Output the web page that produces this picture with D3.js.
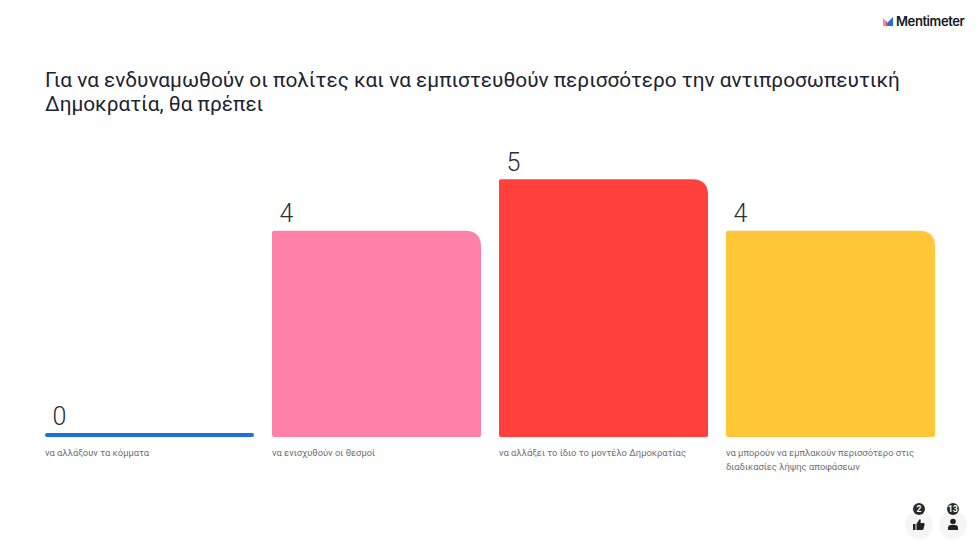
<!DOCTYPE html>
<html>
<head>
<meta charset="utf-8">
<script src="https://cdn.jsdelivr.net/npm/d3@7"></script>
<style>
  html, body { margin: 0; padding: 0; background: #fff; }
  svg { display: block; }
</style>
</head>
<body>
<svg id="chart" width="980" height="551"></svg>
<script>
const titleLines = [
  "Για να ενδυναμωθούν οι πολίτες και να εμπιστευθούν περισσότερο την αντιπροσωπευτική",
  "Δημοκρατία, θα πρέπει"
];
const categories = ["a", "b", "c", "d"];
const values = [0, 4, 5, 4];
const labels = [
  ["να αλλάξουν τα κόμματα"],
  ["να ενισχυθούν οι θεσμοί"],
  ["να αλλάξει το ίδιο το μοντέλο Δημοκρατίας"],
  ["να μπορούν να εμπλακούν περισσότερο στις", "διαδικασίες λήψης αποφάσεων"]
];
const colors = ["#1f6fe0", "#ff80a8", "#ff403d", "#ffc738"];
const reactions = 2;
const participants = 13;

const font = "Roboto, Inter, sans-serif";
const svg = d3.select("#chart");

svg.append("g").selectAll("text").data(titleLines).enter().append("text")
  .attr("x", 45)
  .attr("y", (d, i) => 87 + i * 24)
  .attr("font-family", font)
  .attr("font-size", 20.8)
  .attr("fill", "#1d2433")
  .text(d => d);

const x = d3.scaleBand().domain(categories).range([45, 935]).paddingInner(18 / 227);
const y = d3.scaleLinear().domain([0, 5]).range([437, 179.3]);
const minH = 4;

// top right corner is the big one, the others stay small
function barPath(x0, top, w, bottom) {
  const h = bottom - top;
  const r = Math.min(16, h / 2), s = Math.min(2, h / 2);
  return `M${x0 + s},${top} H${x0 + w - r} Q${x0 + w},${top} ${x0 + w},${top + r}`
    + ` V${bottom - s} Q${x0 + w},${bottom} ${x0 + w - s},${bottom}`
    + ` H${x0 + s} Q${x0},${bottom} ${x0},${bottom - s} V${top + s} Q${x0},${top} ${x0 + s},${top} Z`;
}

const data = categories.map((c, i) => ({ c, v: values[i], color: colors[i], label: labels[i] }));
const bars = svg.append("g").selectAll("g").data(data).enter().append("g");

bars.append("path")
  .attr("d", d => barPath(x(d.c), Math.min(y(d.v), y(0) - minH), x.bandwidth(), y(0)))
  .attr("fill", d => d.color);

bars.append("text")
  .attr("x", d => x(d.c) + 7.5)
  .attr("y", d => Math.min(y(d.v), y(0) - minH) - 8.5)
  .attr("font-family", font)
  .attr("font-size", 25)
  .attr("font-weight", 300)
  .attr("fill", "#2a2f3a")
  .text(d => d.v);

bars.each(function(d) {
  d3.select(this).selectAll("text.lab").data(d.label).enter().append("text")
    .attr("class", "lab")
    .attr("x", x(d.c))
    .attr("y", (t, i) => 456 + i * 13.5)
    .attr("font-family", font)
    .attr("font-size", 9.4)
    .attr("fill", "#6b6f76")
    .text(t => t);
});

// logo
const logo = svg.append("g").attr("transform", "translate(883,16)");
logo.append("path").attr("d", "M0,10 V2 L5,7 V10 Z").attr("fill", "#ff80a8");
logo.append("path").attr("d", "M3,5 L5,7 V10 H3 Z").attr("fill", "#ff403d");
logo.append("path").attr("d", "M5,10 V6 L10,1 V10 Z").attr("fill", "#1f6fe0");
svg.append("text")
  .attr("x", 896).attr("y", 26)
  .attr("font-family", "Inter, sans-serif")
  .attr("font-size", 13)
  .attr("font-weight", 600)
  .attr("letter-spacing", -0.4)
  .attr("fill", "#101820")
  .text("Mentimeter");

// bottom right badges
const badgeData = [
  { cx: 919, n: reactions, icon: "thumb" },
  { cx: 953, n: participants, icon: "user" }
];
const badges = svg.append("g").selectAll("g").data(badgeData).enter().append("g");
badges.append("circle").attr("cx", d => d.cx).attr("cy", 525).attr("r", 14).attr("fill", "#f5f5f5");
badges.append("circle").attr("cx", d => d.cx).attr("cy", 509).attr("r", 6).attr("fill", "#2a2a2a");
badges.append("text")
  .attr("x", d => d.cx).attr("y", 512)
  .attr("text-anchor", "middle")
  .attr("font-family", font)
  .attr("font-size", 8.5)
  .attr("font-weight", 700)
  .attr("fill", "#fff")
  .text(d => d.n);

badges.filter(d => d.icon === "thumb").append("path")
  .attr("transform", d => `translate(${d.cx - 6},519)`)
  .attr("d", "M0,5 H2.5 V11 H0 Z M3.5,5 L6,1 Q6.5,0 7.5,0.5 Q8,1.5 7.5,4 H11 Q12,4.5 11.5,6 L10.5,10 Q10,11 9,11 H3.5 Z")
  .attr("fill", "#222");
badges.filter(d => d.icon === "user").each(function(d) {
  const g = d3.select(this);
  g.append("circle").attr("cx", d.cx).attr("cy", 521.5).attr("r", 2.8).attr("fill", "#222");
  g.append("path")
    .attr("d", `M${d.cx - 5},530 V528 Q${d.cx - 5},525 ${d.cx - 2},525 H${d.cx + 2} Q${d.cx + 5},525 ${d.cx + 5},528 V530 Z`)
    .attr("fill", "#222");
});
</script>
</body>
</html>
